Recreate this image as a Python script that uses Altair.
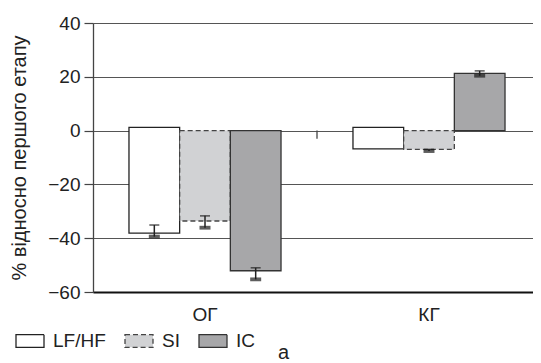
import altair as alt
import pandas as pd

groups = ["ОГ", "КГ"]
series = ["LF/HF", "SI", "IC"]

# bar start/end per group, in series order
bar_start_og = [1.2, 0, 0]
bar_end_og = [-38.1, -33.6, -52.1]
bar_start_kg = [1.2, 0, 0]
bar_end_kg = [-6.8, -7.0, 21.3]

# error bars (upper / lower end)
err_hi_og = [-35.1, -31.7, -51.0]
err_lo_og = [-39.4, -36.1, -55.3]
err_hi_kg = [None, -7.0, 22.2]
err_lo_kg = [None, -7.6, 20.4]

y_ticks = [-60, -40, -20, 0, 20, 40]

fills = ["#ffffff", "#d1d2d4", "#a7a7a9"]
strokes = ["#222222", "#444444", "#333333"]
dashes = [[1, 0], [5, 3], [1, 0]]

rows = []
for g, st, en, hi, lo in [
    ("ОГ", bar_start_og, bar_end_og, err_hi_og, err_lo_og),
    ("КГ", bar_start_kg, bar_end_kg, err_hi_kg, err_lo_kg),
]:
    for i, s in enumerate(series):
        rows.append({"group": g, "series": s, "start": st[i], "end": en[i],
                     "hi": hi[i], "lo": lo[i]})
df = pd.DataFrame(rows)
err_df = df.dropna(subset=["hi", "lo"])

sep_df = pd.DataFrame({"group": ["КГ"], "y": [0], "y2": [-3]})

FONT = "Liberation Sans"
TXT = "#222222"
FS = 19

xscale = alt.Scale(domain=groups, range=[0, 448], paddingInner=0, paddingOuter=0)
xoff = alt.XOffset("series:N", sort=series,
                   scale=alt.Scale(domain=series, paddingInner=0, paddingOuter=0.71))
yscale = alt.Scale(domain=[-60, 40], nice=False, zero=False)

legend = alt.Legend(
    title=None, orient="none", direction="horizontal",
    legendX=-78, legendY=303,
    symbolType="M-1,-0.45H1V0.45H-1Z", symbolSize=784, symbolStrokeWidth=1.3,
    labelFont=FONT, labelFontSize=FS, labelColor=TXT, labelOffset=8,
    columnPadding=16, padding=0,
)

bars = alt.Chart(df).mark_bar(strokeWidth=1.3).encode(
    x=alt.X("group:N", sort=groups, scale=xscale,
            axis=alt.Axis(title=None, ticks=False, domain=True, domainColor="#111111",
                          domainWidth=1.8, labelFont=FONT, labelFontSize=FS,
                          labelColor=TXT, labelPadding=13, labelAngle=0, grid=False)),
    xOffset=xoff,
    y=alt.Y("start:Q", scale=yscale,
            axis=alt.Axis(title="% відносно першого етапу", values=y_ticks,
                          grid=True, gridColor="#555555", gridWidth=1.2,
                          domainColor="#444444", domainWidth=1.3,
                          tickColor="#444444", tickWidth=1.2, tickSize=9,
                          labelFont=FONT, labelFontSize=FS, labelColor=TXT,
                          labelPadding=4, titleFont=FONT, titleFontSize=20,
                          titleFontWeight="normal", titleColor=TXT, titlePadding=18)),
    y2="end:Q",
    fill=alt.Fill("series:N", sort=series,
                  scale=alt.Scale(domain=series, range=fills), legend=legend),
    stroke=alt.Stroke("series:N", sort=series,
                      scale=alt.Scale(domain=series, range=strokes), legend=legend),
    strokeDash=alt.StrokeDash("series:N", sort=series,
                              scale=alt.Scale(domain=series, range=dashes), legend=legend),
)

err_rule = alt.Chart(err_df).mark_rule(color="#222222", strokeWidth=1.5).encode(
    x=alt.X("group:N", sort=groups), xOffset=xoff,
    y="hi:Q", y2="lo:Q",
)
cap_hi = alt.Chart(err_df).mark_tick(color="#222222", orient="horizontal",
                                     size=10, thickness=1.6).encode(
    x=alt.X("group:N", sort=groups), xOffset=xoff, y="hi:Q",
)
cap_lo = alt.Chart(err_df).mark_tick(color="#1a1a1a", orient="horizontal",
                                     size=11, thickness=3.8).encode(
    x=alt.X("group:N", sort=groups), xOffset=xoff, y="lo:Q",
)

sep = alt.Chart(sep_df).mark_rule(color="#444444", strokeWidth=1.3).encode(
    x=alt.X("group:N", sort=groups, bandPosition=0),
    y="y:Q", y2="y2:Q",
)

chart = alt.layer(bars, err_rule, cap_hi, cap_lo, sep).properties(
    width=440, height=269,
    autosize=alt.AutoSizeParams(type="none"),
    padding={"left": 85, "top": 15, "right": 0, "bottom": 71},
    title=alt.Title("а", orient="bottom", anchor="start", frame="group", dx=185,
                    offset=8, baseline="alphabetic",
                    font=FONT, fontSize=20, fontWeight="normal", color=TXT),
).configure_view(stroke=None).configure(font=FONT)

chart.save("out.html", embed_options={"renderer": "svg", "actions": False})
